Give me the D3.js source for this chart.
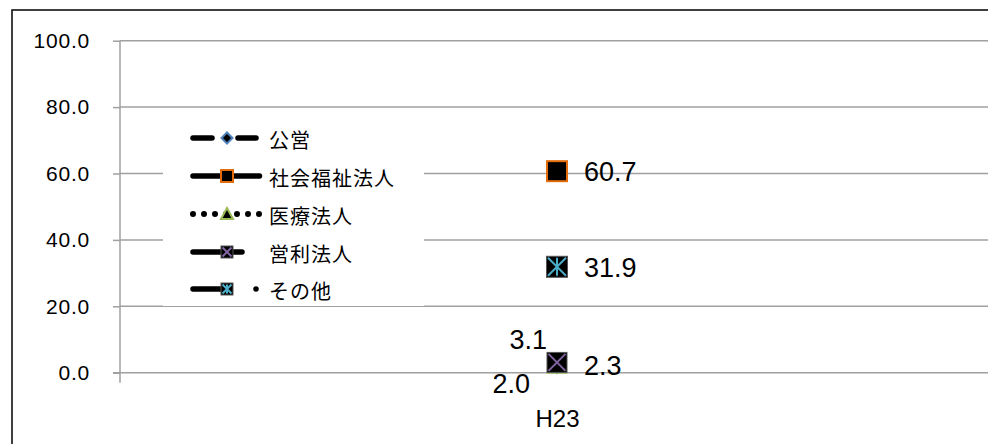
<!DOCTYPE html>
<html>
<head>
<meta charset="utf-8">
<script src="https://cdn.jsdelivr.net/npm/d3@7"></script>
<style>
html,body{margin:0;padding:0;background:#fff;}
svg{display:block;}
</style>
</head>
<body>
<svg id="chart" width="988" height="444"></svg>
<script>
// ---- data ----
const categories = ["H23"];
const seriesNames = ["公営", "社会福祉法人", "医療法人", "営利法人", "その他"];
const valuesKouei = [2.0];
const valuesShakaiFukushi = [60.7];
const valuesIryou = [2.3];
const valuesEiri = [3.1];
const valuesSonota = [31.9];
const yTicks = [0, 20, 40, 60, 80, 100];
const labelPlacement = ["belowLeft", "right", "right", "aboveLeft", "right"];

// ---- styles ----
const markerTypes = ["diamond", "square", "triangle", "x", "asterisk"];
const markerColors = ["#4F81BD", "#E46C0A", "#9BBB59", "#8064A2", "#4BACC6"];
const plotMarkerSize = [14, 20, 18, 20, 21];
const legendDash = ["19,26,18", null, "0,11", "49,200", "33,30,0,200"];

const series = [valuesKouei, valuesShakaiFukushi, valuesIryou, valuesEiri, valuesSonota]
  .map((v, i) => ({name: seriesNames[i], values: v, i}));

const svg = d3.select("#chart");
const plot = {left: 120, right: 994, top: 40.7, bottom: 372.7};

const x = d3.scalePoint().domain(categories).range([plot.left, plot.right]).padding(0.5);
const y = d3.scaleLinear().domain([0, 100]).range([plot.bottom, plot.top]);

// chart border (only left/top visible)
svg.append("rect").attr("x", 12).attr("y", 10).attr("width", 1000).attr("height", 460)
  .attr("fill", "#fff").attr("stroke", "#000").attr("stroke-width", 1.5);

// gridlines
svg.append("g").selectAll("line").data(yTicks.filter(d => d > 0)).join("line")
  .attr("x1", plot.left).attr("x2", plot.right)
  .attr("y1", d => y(d)).attr("y2", d => y(d))
  .attr("stroke", "#a0a0a0").attr("stroke-width", 1.5);

// y axis
const yAxis = d3.axisLeft(y).tickValues(yTicks).tickFormat(d3.format(".1f"))
  .tickSize(7).tickPadding(23);
const gy = svg.append("g").attr("transform", `translate(${plot.left},0)`).call(yAxis);
gy.select(".domain").attr("stroke", "#a0a0a0").attr("stroke-width", 1.5).attr("d", `M0,${plot.top}V${plot.bottom}`);
gy.selectAll(".tick line").attr("stroke", "#a0a0a0").attr("stroke-width", 1.5);
gy.selectAll(".tick text").attr("fill", "#000")
  .style("font-family", "'Liberation Sans', Arial, sans-serif").style("font-size", "21px")
  .attr("letter-spacing", "0.8px");

// x axis
const xAxis = d3.axisBottom(x).tickSize(0).tickPadding(37);
const gx = svg.append("g").attr("transform", `translate(0,${plot.bottom})`).call(xAxis);
gx.select(".domain").attr("stroke", "#a0a0a0").attr("stroke-width", 1.5).attr("d", `M${plot.left - 7},0H${plot.right}`);
gx.selectAll(".tick text").attr("fill", "#000")
  .style("font-family", "'Liberation Sans', Arial, sans-serif").style("font-size", "24px");
// category boundary tick
gx.append("line").attr("x1", plot.left).attr("x2", plot.left).attr("y1", 0).attr("y2", 10)
  .attr("stroke", "#a0a0a0").attr("stroke-width", 1.5);

// marker drawing
function drawMarker(g, type, size, color) {
  const h = size / 2;
  if (type === "diamond") {
    g.append("path").attr("d", `M0,${-h}L${h},0L0,${h}L${-h},0Z`)
      .attr("fill", "#000").attr("stroke", color).attr("stroke-width", 2);
  } else if (type === "square") {
    g.append("rect").attr("x", -h).attr("y", -h).attr("width", size).attr("height", size)
      .attr("fill", "#000").attr("stroke", color).attr("stroke-width", 2);
  } else if (type === "triangle") {
    g.append("path").attr("d", `M0,${-h}L${h},${h * 0.85}L${-h},${h * 0.85}Z`)
      .attr("fill", "#000").attr("stroke", color).attr("stroke-width", 2);
  } else if (type === "x" || type === "asterisk") {
    g.append("rect").attr("x", -h).attr("y", -h).attr("width", size).attr("height", size)
      .attr("fill", "#000").attr("stroke", "#555").attr("stroke-width", 1);
    const k = h - 1.5;
    g.append("path").attr("d", `M${-k},${-k}L${k},${k}M${k},${-k}L${-k},${k}` + (type === "asterisk" ? `M0,${-k}V${k}` : ""))
      .attr("stroke", color).attr("stroke-width", 2).attr("fill", "none");
  }
}

// series lines (single category -> no visible segments) and markers
const line = d3.line().x((d, j) => x(categories[j])).y(d => y(d));
const gSeries = svg.append("g");
series.forEach(s => {
  gSeries.append("path").attr("d", line(s.values)).attr("fill", "none")
    .attr("stroke", "#000").attr("stroke-width", 5)
    .attr("stroke-dasharray", legendDash[s.i]);
});
series.forEach(s => {
  s.values.forEach((v, j) => {
    const g = gSeries.append("g").attr("transform", `translate(${x(categories[j])},${y(v)})`);
    drawMarker(g, markerTypes[s.i], plotMarkerSize[s.i], markerColors[s.i]);
  });
});

// data labels
const gLabels = svg.append("g")
  .style("font-family", "'Liberation Sans', Arial, sans-serif").style("font-size", "27px");
series.forEach(s => {
  s.values.forEach((v, j) => {
    const px = x(categories[j]), py = y(v);
    const pos = labelPlacement[s.i];
    let tx, ty, anchor;
    if (pos === "right") { tx = px + 27; ty = py + 10; anchor = "start"; }
    else if (pos === "aboveLeft") { tx = px - 10; ty = py - 13; anchor = "end"; }
    else { tx = px - 27; ty = py + 27; anchor = "end"; }
    gLabels.append("text").attr("x", tx).attr("y", ty).attr("text-anchor", anchor)
      .attr("fill", "#000").text(d3.format(".1f")(v));
  });
});

// legend
const legend = svg.append("g");
legend.append("rect").attr("x", 163).attr("y", 116).attr("width", 261).attr("height", 190)
  .attr("fill", "#fff");
const rowY = [138, 176, 214, 252, 289];
series.forEach(s => {
  const ry = rowY[s.i];
  const path = legend.append("line").attr("x1", 193).attr("x2", 259.5)
    .attr("y1", ry).attr("y2", ry)
    .attr("stroke", "#000").attr("stroke-width", s.i === 2 ? 6 : 5.5)
    .attr("stroke-linecap", "round");
  if (legendDash[s.i]) path.attr("stroke-dasharray", legendDash[s.i]);
  const g = legend.append("g").attr("transform", `translate(227,${ry})`);
  drawMarker(g, markerTypes[s.i], s.i === 0 ? 11 : 12, markerColors[s.i]);
  legend.append("text").attr("x", 269).attr("y", ry + 1).attr("dominant-baseline", "central")
    .style("font-family", "'Noto Sans CJK JP', sans-serif").style("font-size", "20px")
    .attr("letter-spacing", "1px").attr("fill", "#000").text(s.name);
});
</script>
</body>
</html>
